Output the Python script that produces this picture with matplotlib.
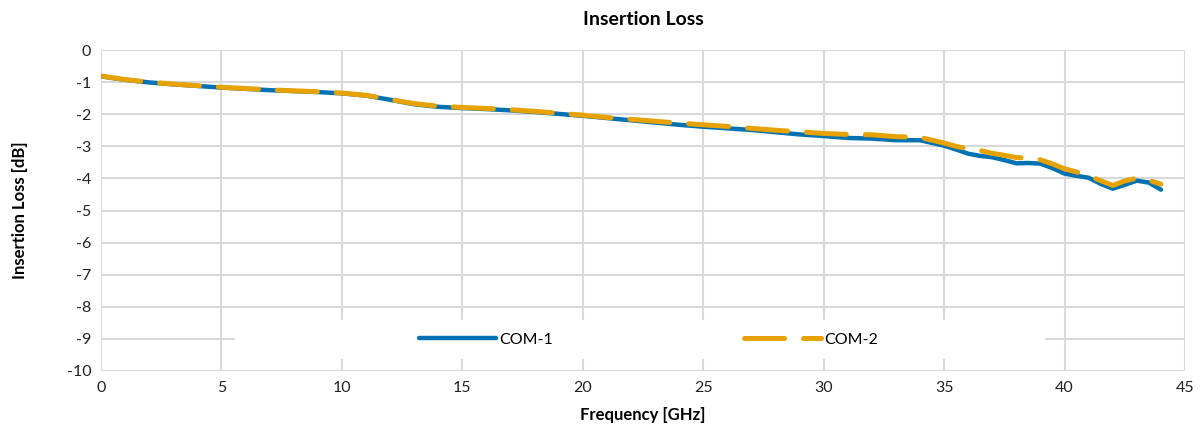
import matplotlib
matplotlib.use("Agg")
import matplotlib.pyplot as plt
from matplotlib.patches import Rectangle

plt.rcParams['font.family'] = ['Lato', 'DejaVu Sans']
plt.rcParams['axes.unicode_minus'] = False

# frequency points [GHz]
freq = [0, 1, 2, 3, 4, 5, 6, 7, 8, 9, 10, 11, 12, 13, 14, 15, 16, 17, 18, 19,
        20, 21, 22, 23, 24, 25, 26, 27, 28, 29, 30, 31, 32, 33, 34, 35, 35.5,
        36, 36.5, 37, 37.5, 38, 38.5, 39, 39.5, 40, 40.5, 41, 41.5, 42, 42.5,
        43, 43.5, 44]

com1 = [-0.82, -0.93, -1.01, -1.07, -1.12, -1.17, -1.21, -1.25, -1.28, -1.31,
        -1.35, -1.42, -1.55, -1.69, -1.77, -1.81, -1.84, -1.88, -1.93, -1.99,
        -2.05, -2.12, -2.19, -2.26, -2.33, -2.39, -2.44, -2.49, -2.56, -2.63,
        -2.68, -2.74, -2.76, -2.81, -2.81, -2.98, -3.10, -3.23, -3.30, -3.34,
        -3.43, -3.53, -3.52, -3.54, -3.68, -3.85, -3.92, -3.98, -4.17, -4.32,
        -4.20, -4.07, -4.13, -4.35]

com2 = [-0.81, -0.92, -1.00, -1.06, -1.11, -1.16, -1.20, -1.24, -1.27, -1.30,
        -1.34, -1.41, -1.54, -1.67, -1.75, -1.79, -1.82, -1.86, -1.91, -1.97,
        -2.03, -2.10, -2.16, -2.22, -2.28, -2.33, -2.38, -2.44, -2.50, -2.55,
        -2.60, -2.63, -2.64, -2.70, -2.72, -2.90, -3.00, -3.08, -3.13, -3.22,
        -3.28, -3.35, -3.37, -3.42, -3.55, -3.70, -3.80, -3.92, -4.07, -4.22,
        -4.08, -3.99, -4.06, -4.18]

fig = plt.figure(figsize=(12, 4.38), dpi=100)
ax = fig.add_axes([0.0842, 0.153, 0.9033, 0.7328])

ax.plot(freq, com1, color='#0072b2', lw=3.2, solid_capstyle='round',
        solid_joinstyle='round', label='COM-1', zorder=3)
ax.plot(freq, com2, color='#e8a200', lw=3.6, dashes=(8, 3.8), dash_capstyle='round',
        dash_joinstyle='round', label='COM-2', zorder=4)

ax.set_xlim(0, 45)
ax.set_ylim(-10, 0)
ax.set_xticks(range(0, 46, 5))
ax.set_yticks(range(-10, 1))
ax.grid(True, color='#d9d9d9', lw=1.5)
ax.set_axisbelow(True)
for s in ax.spines.values():
    s.set_visible(False)
ax.tick_params(length=0, labelsize=11.5, colors='#222222', pad=7)

# white legend background over the grid
ax.add_patch(Rectangle((0.1236, 0.037), 0.747, 0.122, transform=ax.transAxes,
                       facecolor='white', edgecolor='none', zorder=1))
ax.legend(loc='center', bbox_to_anchor=(0.505, 0.098), ncol=2, frameon=False,
          fontsize=11.5, handlelength=4.8, columnspacing=12, handletextpad=0.2)

ax.set_title('Insertion Loss', fontsize=14, fontweight='bold', pad=18)
ax.set_xlabel('Frequency [GHz]', fontsize=12, fontweight='bold', labelpad=9)
ax.set_ylabel('Insertion Loss [dB]', fontsize=12, fontweight='bold', labelpad=28)

fig.savefig('out.png', dpi=100)
